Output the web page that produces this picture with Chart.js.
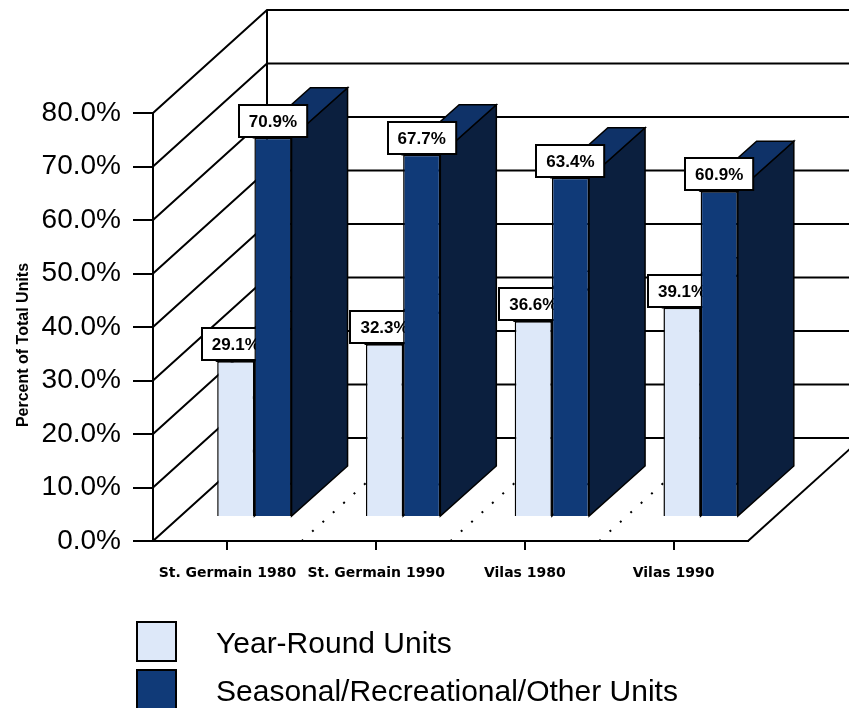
<!DOCTYPE html>
<html>
<head>
<meta charset="utf-8">
<script src="https://cdn.jsdelivr.net/npm/chart.js@4.4.1/dist/chart.umd.min.js"></script>
<style>
  html, body { margin: 0; padding: 0; background: #fff; }
  #wrap { width: 849px; height: 708px; }
</style>
</head>
<body>
<div id="wrap"><canvas id="barChart" width="849" height="708"></canvas></div>
<script>
// chart data
const categories = ['St. Germain 1980', 'St. Germain 1990', 'Vilas 1980', 'Vilas 1990'];
const yearRound = [29.1, 32.3, 36.6, 39.1];
const seasonal = [70.9, 67.7, 63.4, 60.9];
const seriesNames = ['Year-Round Units', 'Seasonal/Recreational/Other Units'];
const yMax = 80;
const yStep = 10;
const yTitle = 'Percent of Total Units';

// colours: front, side, top
const frontColors = ['#DDE8F9', '#103A78'];
const sideColors = ['#B8C3D6', '#0B1F3E'];
const topColors = ['#C9D5EA', '#0F3268'];

// fake 3d depth
const WALL_DX = 114, WALL_DY = -103;   // full floor depth
const BAR_X0 = 27, BAR_Y0 = -24;       // bars sit a bit back
const BAR_DX = 56, BAR_DY = -50;       // bar depth

function pct(v) { return v.toFixed(1) + '%'; }

function drawFaces(ctx, meta) {
  const i = meta.index;
  ctx.strokeStyle = '#000';
  ctx.lineWidth = 1.5;
  meta.data.forEach(bar => {
    const p = bar.getProps(['x', 'y', 'base', 'width'], true);
    const l = p.x - p.width / 2, r = p.x + p.width / 2;
    // side
    ctx.beginPath();
    ctx.moveTo(r, p.y);
    ctx.lineTo(r + BAR_DX, p.y + BAR_DY);
    ctx.lineTo(r + BAR_DX, p.base + BAR_DY);
    ctx.lineTo(r, p.base);
    ctx.closePath();
    ctx.fillStyle = sideColors[i];
    ctx.fill();
    ctx.stroke();
    // top
    ctx.beginPath();
    ctx.moveTo(l, p.y);
    ctx.lineTo(r, p.y);
    ctx.lineTo(r + BAR_DX, p.y + BAR_DY);
    ctx.lineTo(l + BAR_DX, p.y + BAR_DY);
    ctx.closePath();
    ctx.fillStyle = topColors[i];
    ctx.fill();
    ctx.stroke();
  });
}

function drawLabels(ctx, meta, values) {
  ctx.font = 'bold 17px "Liberation Sans"';
  ctx.textAlign = 'center';
  ctx.textBaseline = 'middle';
  meta.data.forEach((bar, k) => {
    const p = bar.getProps(['x', 'y'], true);
    const txt = pct(values[k]);
    const w = ctx.measureText(txt).width + 20, h = 32;
    const bx = Math.round(p.x - w / 2), by = Math.round(p.y - 1 - h);
    ctx.fillStyle = '#fff';
    ctx.fillRect(bx, by, w, h);
    ctx.strokeStyle = '#000';
    ctx.lineWidth = 2;
    ctx.strokeRect(bx, by, w, h);
    ctx.fillStyle = '#000';
    ctx.fillText(txt, p.x, by + h / 2 + 1);
  });
}

const depth3d = {
  id: 'depth3d',
  beforeDatasetsDraw(chart) {
    const ctx = chart.ctx, a = chart.chartArea, y = chart.scales.y;
    ctx.save();
    ctx.strokeStyle = '#000';
    ctx.lineWidth = 2;
    // side wall diagonals + back wall lines
    for (let v = 0; v <= yMax; v += yStep) {
      const py = y.getPixelForValue(v);
      ctx.beginPath();
      ctx.moveTo(a.left, py);
      ctx.lineTo(a.left + WALL_DX, py + WALL_DY);
      ctx.lineTo(a.right + WALL_DX + 20, py + WALL_DY);
      ctx.stroke();
    }
    // back corner
    ctx.beginPath();
    ctx.moveTo(a.left + WALL_DX, y.getPixelForValue(yMax) + WALL_DY);
    ctx.lineTo(a.left + WALL_DX, y.getPixelForValue(0) + WALL_DY);
    ctx.stroke();
    // floor right edge
    const y0 = y.getPixelForValue(0);
    ctx.beginPath();
    ctx.moveTo(a.right, y0);
    ctx.lineTo(a.right + WALL_DX, y0 + WALL_DY);
    ctx.stroke();
    // dotted category lines on floor
    ctx.setLineDash([2, 12]);
    const step = (a.right - a.left) / categories.length;
    for (let i = 1; i < categories.length; i++) {
      const px = a.left + step * i;
      ctx.beginPath();
      ctx.moveTo(px, y0);
      ctx.lineTo(px + WALL_DX, y0 + WALL_DY);
      ctx.stroke();
    }
    ctx.restore();
  },
  // chart.js paints the first dataset last; skip it and paint in index order below
  beforeDatasetDraw() { return false; },
  afterDatasetsDraw(chart) {
    const ctx = chart.ctx;
    const metas = chart.getSortedVisibleDatasetMetas().slice().sort((m, n) => m.index - n.index);
    metas.forEach(meta => {
      ctx.save();
      ctx.translate(BAR_X0, BAR_Y0);
      drawFaces(ctx, meta);
      meta.controller.draw();
      drawLabels(ctx, meta, chart.data.datasets[meta.index].data);
      ctx.restore();
    });
  },
  afterDraw(chart) {
    const ctx = chart.ctx;
    ctx.save();
    // y title
    ctx.translate(24, 345);
    ctx.rotate(-Math.PI / 2);
    ctx.font = 'bold 16px "Liberation Sans"';
    ctx.fillStyle = '#000';
    ctx.textAlign = 'center';
    ctx.textBaseline = 'middle';
    ctx.fillText(yTitle, 0, 0);
    ctx.restore();
    // legend
    ctx.save();
    ctx.font = '30px "Liberation Sans"';
    ctx.textBaseline = 'middle';
    ctx.textAlign = 'left';
    seriesNames.forEach((name, i) => {
      const top = 622 + i * 48;
      ctx.fillStyle = frontColors[i];
      ctx.fillRect(137, top, 39, 39);
      ctx.strokeStyle = '#000';
      ctx.lineWidth = 2;
      ctx.strokeRect(137, top, 39, 39);
      ctx.fillStyle = '#000';
      ctx.fillText(name, 216, top + 23);
    });
    ctx.restore();
  }
};

document.addEventListener("DOMContentLoaded", () => {
  new Chart(document.getElementById('barChart'), {
    type: 'bar',
    data: {
      labels: categories,
      datasets: [{
        label: seriesNames[0],
        data: yearRound,
        backgroundColor: frontColors[0],
        borderColor: '#000',
        borderWidth: 1.5
      },
      {
        label: seriesNames[1],
        data: seasonal,
        backgroundColor: frontColors[1],
        borderColor: '#000',
        borderWidth: 1.5
      }]
    },
    options: {
      responsive: false,
      animation: false,
      layout: { padding: { left: 0, top: 113, right: 101, bottom: 107 } },
      datasets: { bar: { categoryPercentage: 0.5, barPercentage: 1.0 } },
      plugins: { legend: { display: false }, tooltip: { enabled: false } },
      scales: {
        x: {
          afterFit: s => { s.height = 60; },
          grid: { offset: false, drawOnChartArea: false, color: '#000', lineWidth: 2, tickLength: 9 },
          border: { color: '#000', width: 2 },
          ticks: {
            autoSkip: false, maxRotation: 0, padding: 15, color: '#000',
            font: { family: 'DejaVu Sans', weight: 'bold', size: 14 }
          }
        },
        y: {
          min: 0,
          max: yMax,
          afterFit: s => { s.width = 153; },
          grid: { drawOnChartArea: false, color: '#000', lineWidth: 2, tickLength: 20 },
          border: { color: '#000', width: 2 },
          ticks: {
            stepSize: yStep, padding: 12, color: '#000',
            font: { family: 'Liberation Sans', size: 28 },
            callback: v => pct(v)
          }
        }
      }
    },
    plugins: [depth3d]
  });
});
</script>
</body>
</html>
